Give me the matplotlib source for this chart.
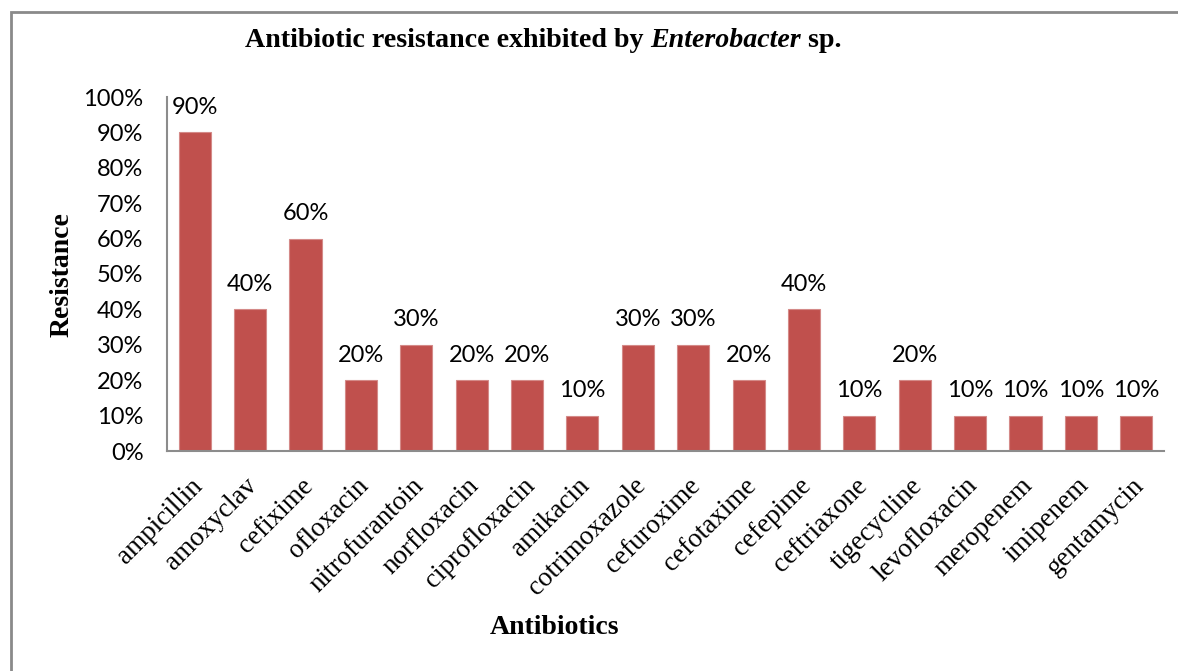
import matplotlib
matplotlib.use("Agg")
import matplotlib.pyplot as plt
from matplotlib.patches import Rectangle
from matplotlib.ticker import PercentFormatter
from matplotlib.transforms import ScaledTranslation

antibiotics = ["ampicillin", "amoxyclav", "cefixime", "ofloxacin", "nitrofurantoin",
               "norfloxacin", "ciprofloxacin", "amikacin", "cotrimoxazole", "cefuroxime",
               "cefotaxime", "cefepime", "ceftriaxone", "tigecycline", "levofloxacin",
               "meropenem", "imipenem", "gentamycin"]
resistance = [90, 40, 60, 20, 30, 20, 20, 10, 30, 30, 20, 40, 10, 20, 10, 10, 10, 10]
y_ticks = list(range(0, 101, 10))

W, H = 1178, 671
fig = plt.figure(figsize=(W / 100, H / 100), dpi=100)

SERIF = "Liberation Serif"
SANS = "Lato"
BAR = "#C0504D"
AXIS_GREY = "#8C8C8C"

# outer chart frame (open to the right and bottom)
fig.patches.append(Rectangle((11 / W, -0.05), 1.2, 1 - 12 / H + 0.05,
                             transform=fig.transFigure, fill=False,
                             edgecolor="#8A8A8A", linewidth=2.0))

ax = fig.add_axes([167 / W, 1 - 451 / H, (1164 - 167) / W, (451 - 97) / H])
x = range(len(antibiotics))
bars = ax.bar(x, resistance, width=0.58, color=BAR, edgecolor="#D48A88", linewidth=0.8)

ax.set_xlim(-0.5, len(antibiotics) - 0.5)
ax.set_ylim(0, 100)
ax.set_yticks(y_ticks)
ax.yaxis.set_major_formatter(PercentFormatter(decimals=0))
ax.tick_params(axis="y", length=0, pad=17, labelsize=17)
for lab in ax.get_yticklabels():
    lab.set_fontfamily(SANS)

ax.set_xticks(list(x))
ax.set_xticklabels(antibiotics, rotation=45, ha="right", rotation_mode="anchor",
                   fontfamily=SERIF, fontsize=19.5)
ax.tick_params(axis="x", length=0, pad=16)
shift = ScaledTranslation(-5 / 100, 0, fig.dpi_scale_trans)
for lab in ax.get_xticklabels():
    lab.set_transform(lab.get_transform() + shift)

for s in ("top", "right"):
    ax.spines[s].set_visible(False)
for s in ("left", "bottom"):
    ax.spines[s].set_color(AXIS_GREY)
    ax.spines[s].set_linewidth(1.5)

for b, v in zip(bars, resistance):
    ax.annotate(f"{v}%", (b.get_x() + b.get_width() / 2, v), xytext=(0, 18),
                textcoords="offset points", ha="center", va="center",
                fontfamily=SANS, fontsize=17, color="black")

fig.text(62 / W, 1 - 275 / H, "Resistance", fontfamily=SERIF, fontweight="bold",
         fontsize=20, rotation=90, ha="center", va="center")
fig.text(554 / W, 1 - 628 / H, "Antibiotics", fontfamily=SERIF, fontweight="bold",
         fontsize=20, ha="center", va="center")

# title with italic genus name
TY = 1 - 47 / H
TS = 20.2
t1 = fig.text(245 / W, TY, "Antibiotic resistance exhibited by ",
              fontfamily=SERIF, fontweight="bold", fontsize=TS, ha="left", va="baseline")
t2 = fig.text(0, TY, "Enterobacter", fontfamily=SERIF, fontweight="bold",
              fontstyle="italic", fontsize=TS, va="baseline")
t3 = fig.text(0, TY, " sp.", fontfamily=SERIF, fontweight="bold", fontsize=TS,
              va="baseline")
fig.canvas.draw()
r = fig.canvas.get_renderer()
inv = fig.transFigure.inverted()
t2.set_x(inv.transform((t1.get_window_extent(r).x1, 0))[0])
fig.canvas.draw()
t3.set_x(inv.transform((t2.get_window_extent(r).x1, 0))[0])

fig.savefig("out.png", dpi=100, facecolor="white")
